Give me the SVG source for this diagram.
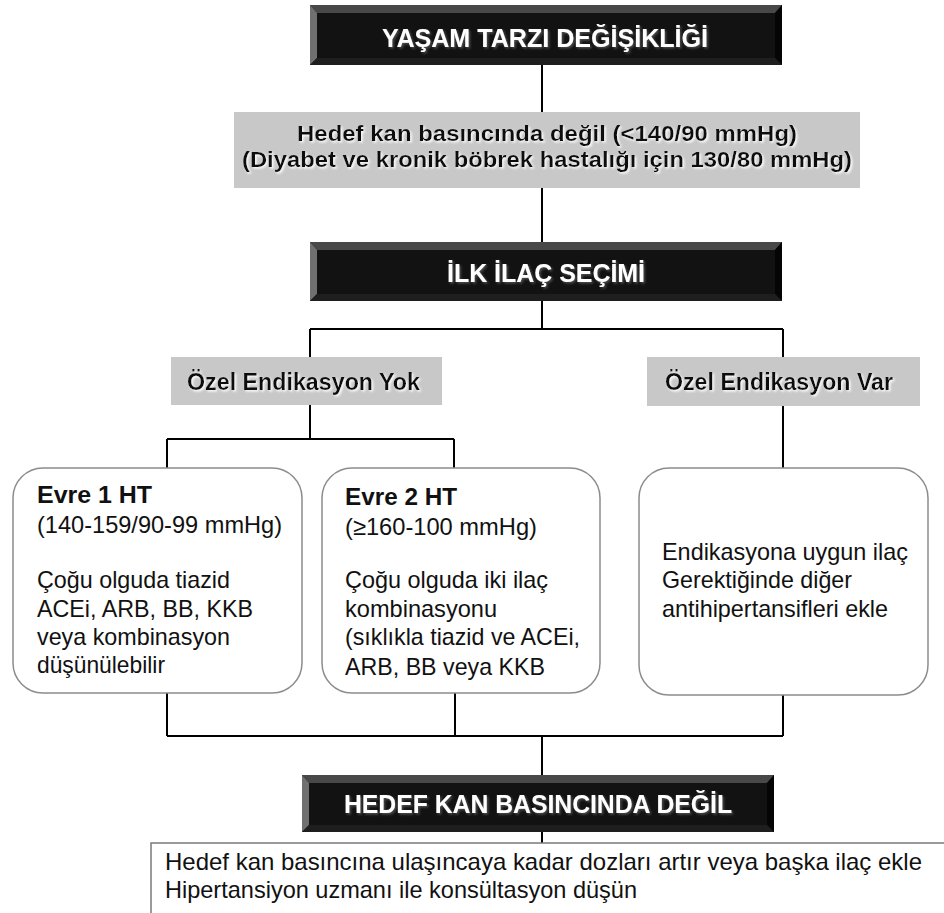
<svg xmlns="http://www.w3.org/2000/svg" width="944" height="913" viewBox="0 0 944 913">
  <defs>
    <filter id="glowDark" x="-5%" y="-20%" width="110%" height="150%">
      <feDropShadow dx="1.5" dy="1.5" stdDeviation="0.8" flood-color="#555" flood-opacity="0.9"/>
    </filter>
    <filter id="glowLight" x="-5%" y="-20%" width="110%" height="150%">
      <feDropShadow dx="1.5" dy="1.5" stdDeviation="0.8" flood-color="#ffffff" flood-opacity="1"/>
    </filter>
  </defs>
  <style>
    .bar { fill: #121212; }
    .bevT { fill: #484848; }
    .bevL { fill: #707070; }
    .bevR { fill: #050505; }
    .bevB { fill: #1e1e1e; }
    .barTxt { font-family: "Liberation Sans", Arial, sans-serif; font-weight: bold; font-size: 25px; fill: #ffffff; text-anchor: middle; filter: url(#glowDark); }
    .grey { fill: #c8c8c8; }
    .greyTxt { font-family: "Liberation Sans", Arial, sans-serif; font-weight: bold; fill: #111; filter: url(#glowLight); }
    .card { fill: #ffffff; stroke: #8c8c8c; stroke-width: 1.5; }
    .body { font-family: "Liberation Sans", Arial, sans-serif; font-size: 24px; fill: #111; }
    .head { font-weight: bold; }
    .wire { fill: none; stroke: #000; stroke-width: 2; }
    .note { fill: #ffffff; stroke: #7a7a7a; stroke-width: 1.5; }
  </style>

  <!-- connectors -->
  <g id="connectors" class="wire">
    <path d="M542 65 V112"/>
    <path d="M542 188 V242"/>
    <path d="M542 301 V329 M310 329 H783 M310 329 V357 M783 329 V357"/>
    <path d="M310 405 V439 M167 439 H454 M167 439 V468 M454 439 V468"/>
    <path d="M783 406 V468"/>
    <path d="M167 693 V736 M455 693 V736 M783 695 V736 M167 736 H783 M542 736 V775"/>
    <path d="M542 832 V843"/>
  </g>

  <!-- lifestyle change -->
  <g id="lifestyle">
    <rect class="bar" x="310" y="5" width="472" height="60"/>
    <polygon class="bevT" points="310,5 782,5 775,13 317,13"/>
    <polygon class="bevL" points="310,5 317,13 317,58 310,65"/>
    <polygon class="bevR" points="782,5 782,65 775,58 775,13"/>
    <polygon class="bevB" points="310,65 317,58 775,58 782,65"/>
    <text class="barTxt" x="545" y="47" textLength="326" lengthAdjust="spacingAndGlyphs">YAŞAM TARZI DEĞİŞİKLİĞİ</text>
  </g>

  <!-- target not reached -->
  <g id="target">
    <rect class="grey" x="234" y="112" width="626" height="76"/>
    <text class="greyTxt" x="547" y="141" font-size="22" text-anchor="middle" textLength="500" lengthAdjust="spacingAndGlyphs">Hedef kan basıncında değil (&lt;140/90 mmHg)</text>
    <text class="greyTxt" x="547" y="167" font-size="22" text-anchor="middle" textLength="610" lengthAdjust="spacingAndGlyphs">(Diyabet ve kronik böbrek hastalığı için 130/80 mmHg)</text>
  </g>

  <!-- first drug choice -->
  <g id="first-choice">
    <rect class="bar" x="310" y="242" width="472" height="59"/>
    <polygon class="bevT" points="310,242 782,242 775,250 317,250"/>
    <polygon class="bevL" points="310,242 317,250 317,294 310,301"/>
    <polygon class="bevR" points="782,242 782,301 775,294 775,250"/>
    <polygon class="bevB" points="310,301 317,294 775,294 782,301"/>
    <text class="barTxt" x="546" y="282" textLength="198" lengthAdjust="spacingAndGlyphs">İLK İLAÇ SEÇİMİ</text>
  </g>

  <!-- no compelling indication -->
  <g id="no-indication">
    <rect class="grey" x="171" y="357" width="271" height="48"/>
    <text class="greyTxt" x="187" y="390" font-size="24" textLength="233" lengthAdjust="spacingAndGlyphs">Özel Endikasyon Yok</text>
  </g>

  <!-- compelling indication -->
  <g id="indication">
    <rect class="grey" x="647" y="357" width="273" height="49"/>
    <text class="greyTxt" x="665" y="390" font-size="24" textLength="228" lengthAdjust="spacingAndGlyphs">Özel Endikasyon Var</text>
  </g>

  <!-- stage 1 -->
  <g id="stage1">
    <rect class="card" x="13" y="468" width="289" height="225" rx="30" ry="30"/>
    <text class="body head" x="37" y="503" textLength="115" lengthAdjust="spacingAndGlyphs">Evre 1 HT</text>
    <text class="body" x="37" y="533" textLength="245" lengthAdjust="spacingAndGlyphs">(140-159/90-99 mmHg)</text>
    <text class="body" x="37" y="588" textLength="193" lengthAdjust="spacingAndGlyphs">Çoğu olguda tiazid</text>
    <text class="body" x="37" y="617" textLength="216" lengthAdjust="spacingAndGlyphs">ACEi, ARB, BB, KKB</text>
    <text class="body" x="37" y="645" textLength="193" lengthAdjust="spacingAndGlyphs">veya kombinasyon</text>
    <text class="body" x="37" y="673" textLength="128" lengthAdjust="spacingAndGlyphs">düşünülebilir</text>
  </g>

  <!-- stage 2 -->
  <g id="stage2">
    <rect class="card" x="322" y="468" width="278" height="225" rx="30" ry="30"/>
    <text class="body head" x="345" y="505" textLength="112" lengthAdjust="spacingAndGlyphs">Evre 2 HT</text>
    <text class="body" x="345" y="535" textLength="192" lengthAdjust="spacingAndGlyphs">(≥160-100 mmHg)</text>
    <text class="body" x="345" y="588" textLength="203" lengthAdjust="spacingAndGlyphs">Çoğu olguda iki ilaç</text>
    <text class="body" x="345" y="617" textLength="152" lengthAdjust="spacingAndGlyphs">kombinasyonu</text>
    <text class="body" x="345" y="645" textLength="235" lengthAdjust="spacingAndGlyphs">(sıklıkla tiazid ve ACEi,</text>
    <text class="body" x="345" y="675" textLength="200" lengthAdjust="spacingAndGlyphs">ARB, BB veya KKB</text>
  </g>

  <!-- indicated drug -->
  <g id="indicated-drug">
    <rect class="card" x="639" y="468" width="289" height="227" rx="30" ry="30"/>
    <text class="body" x="662" y="560" textLength="246" lengthAdjust="spacingAndGlyphs">Endikasyona uygun ilaç</text>
    <text class="body" x="662" y="588" textLength="190" lengthAdjust="spacingAndGlyphs">Gerektiğinde diğer</text>
    <text class="body" x="662" y="617" textLength="226" lengthAdjust="spacingAndGlyphs">antihipertansifleri ekle</text>
  </g>

  <!-- target still not reached -->
  <g id="not-reached">
    <rect class="bar" x="302" y="775" width="472" height="57"/>
    <polygon class="bevT" points="302,775 774,775 767,783 309,783"/>
    <polygon class="bevL" points="302,775 309,783 309,825 302,832"/>
    <polygon class="bevR" points="774,775 774,832 767,825 767,783"/>
    <polygon class="bevB" points="302,832 309,825 767,825 774,832"/>
    <text class="barTxt" x="538" y="813" textLength="388" lengthAdjust="spacingAndGlyphs">HEDEF KAN BASINCINDA DEĞİL</text>
  </g>

  <!-- next steps -->
  <g id="next-steps">
    <rect class="note" x="151" y="843" width="820" height="100"/>
    <text class="body" x="165" y="870" textLength="757" lengthAdjust="spacingAndGlyphs">Hedef kan basıncına ulaşıncaya kadar dozları artır veya başka ilaç ekle</text>
    <text class="body" x="165" y="898" textLength="472" lengthAdjust="spacingAndGlyphs">Hipertansiyon uzmanı ile konsültasyon düşün</text>
  </g>
</svg>
